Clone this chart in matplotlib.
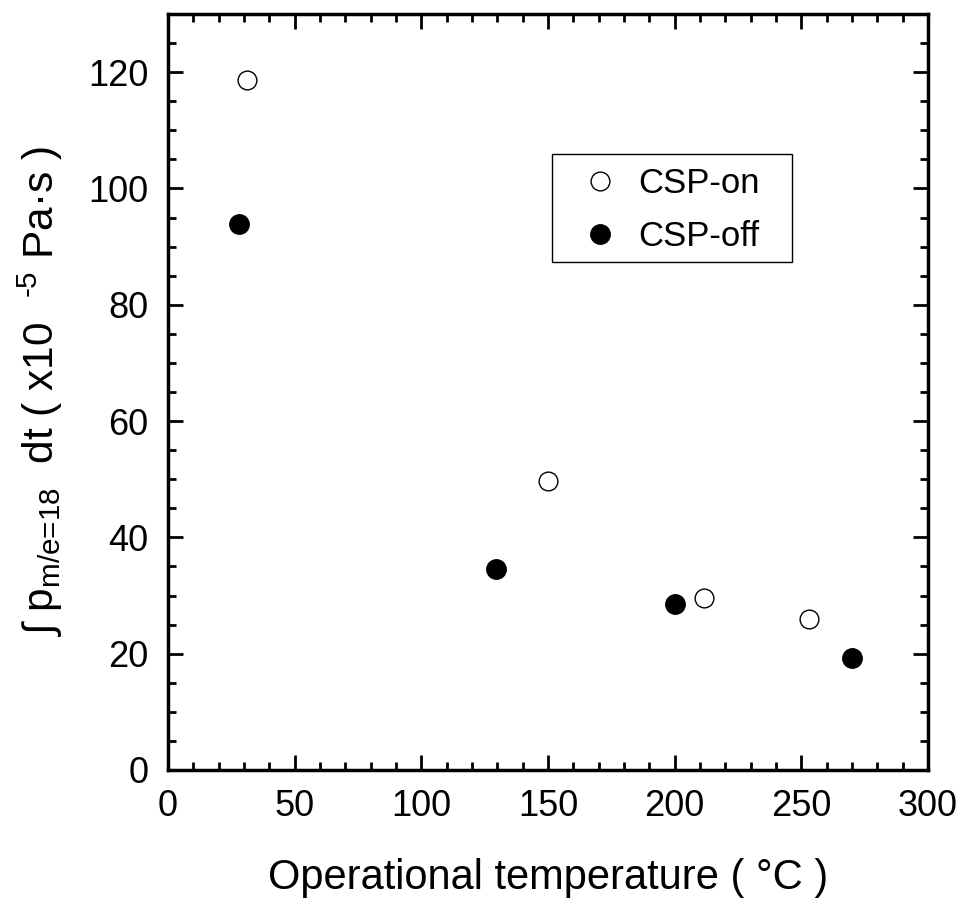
import matplotlib
matplotlib.use("Agg")
import matplotlib.pyplot as plt
from matplotlib.ticker import MultipleLocator
from matplotlib.patches import Rectangle

plt.rcParams['font.family'] = ['Liberation Sans', 'DejaVu Sans']
plt.rcParams['mathtext.fontset'] = 'custom'
plt.rcParams['mathtext.rm'] = 'Liberation Sans'
plt.rcParams['mathtext.it'] = 'Liberation Sans'

# CSP-on (open circles)
temp_on = [31, 150, 211.5, 253]
val_on = [118.7, 49.7, 29.5, 26.0]

# CSP-off (filled circles)
temp_off = [28, 129.5, 200, 270]
val_off = [93.8, 34.5, 28.6, 19.2]

fig = plt.figure(figsize=(9.64, 9.01), dpi=100)
ax = fig.add_axes([0.1743, 0.1454, 0.7884, 0.8391])

ax.plot(temp_on, val_on, linestyle='none', marker='o', markersize=13.5,
        markerfacecolor='white', markeredgecolor='black', markeredgewidth=1.0,
        label='CSP-on')
ax.plot(temp_off, val_off, linestyle='none', marker='o', markersize=14,
        markerfacecolor='black', markeredgecolor='black', markeredgewidth=1.0,
        label='CSP-off')

ax.set_xlim(0, 300)
ax.set_ylim(0, 130)
ax.xaxis.set_major_locator(MultipleLocator(50))
ax.xaxis.set_minor_locator(MultipleLocator(10))
ax.yaxis.set_major_locator(MultipleLocator(20))
ax.yaxis.set_minor_locator(MultipleLocator(5))

for s in ax.spines.values():
    s.set_linewidth(2.5)

ax.tick_params(which='both', direction='in', top=True, right=True, width=2.0)
ax.tick_params(which='major', length=11, labelsize=26, pad=14)
ax.tick_params(which='minor', length=6)

ax.set_xlabel('Operational temperature ( °C )', fontsize=30, labelpad=24)
ax.set_ylabel(r'∫ $\mathregular{p_{\text{m/e=18}}}$  dt ( x10  $\mathregular{^{\text{-}5}}$ Pa·s )',
              fontsize=30.5, labelpad=17)

# legend entries without frame; the box is drawn separately
leg = ax.legend(loc='center left', bbox_to_anchor=(0.55, 0.7407), fontsize=25,
                frameon=False, handletextpad=0.69, borderpad=0.0,
                labelspacing=0.59, handlelength=0.8, borderaxespad=0)
ax.add_patch(Rectangle((0.5053, 0.6713), 0.3158, 0.1429, transform=ax.transAxes,
                       fill=False, edgecolor='black', linewidth=1.0, zorder=5))

fig.savefig('out.png', dpi=100)
